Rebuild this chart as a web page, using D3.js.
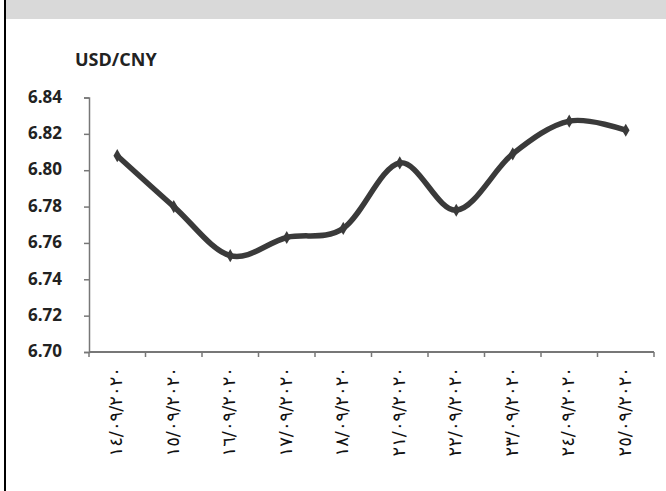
<!DOCTYPE html>
<html>
<head>
<meta charset="utf-8">
<script src="https://cdn.jsdelivr.net/npm/d3@7"></script>
<style>
  html, body { margin: 0; padding: 0; background: #fff; }
  svg { display: block; }
</style>
</head>
<body>
<svg id="chart" width="666" height="491"></svg>
<script>
// USD/CNY daily rate, September 2020
const dates = ["١٤/٠٩/٢٠٢٠", "١٥/٠٩/٢٠٢٠", "١٦/٠٩/٢٠٢٠", "١٧/٠٩/٢٠٢٠", "١٨/٠٩/٢٠٢٠",
               "٢١/٠٩/٢٠٢٠", "٢٢/٠٩/٢٠٢٠", "٢٣/٠٩/٢٠٢٠", "٢٤/٠٩/٢٠٢٠", "٢٥/٠٩/٢٠٢٠"];
const rates = [6.808, 6.780, 6.753, 6.763, 6.768, 6.804, 6.778, 6.809, 6.827, 6.822];
const yTicks = [6.70, 6.72, 6.74, 6.76, 6.78, 6.80, 6.82, 6.84];
const seriesName = "USD/CNY";

const svg = d3.select("#chart");
const W = 666, H = 491;
const ink = "#3a3a3a";

// header band and left frame rule
svg.append("rect").attr("x", 6).attr("y", 0).attr("width", W - 6).attr("height", 19)
  .attr("fill", "#d9d9d9");
svg.append("rect").attr("x", 4).attr("y", 0).attr("width", 2).attr("height", H)
  .attr("fill", "#000");

const plot = { left: 89, right: 654, top: 97.5, bottom: 352 };

const x = d3.scaleBand().domain(dates).range([plot.left, plot.right]);
const y = d3.scaleLinear().domain([6.70, 6.84]).range([plot.bottom, plot.top]);

// y axis
const yAxis = svg.append("g")
  .attr("transform", `translate(${plot.left},0)`)
  .call(d3.axisLeft(y).tickValues(yTicks).tickFormat(d3.format(".2f")).tickSize(5).tickPadding(22));
yAxis.select(".domain").attr("stroke", "#777").attr("stroke-width", 1.5);
yAxis.selectAll(".tick line").attr("stroke", "#777").attr("stroke-width", 1.5);
yAxis.selectAll(".tick text")
  .attr("fill", "#222")
  .attr("dy", "0.28em")
  .style("font-family", "'Open Sans', sans-serif")
  .style("font-weight", "700")
  .style("font-size", "17px");

// x axis with boundary ticks between days
const xAxis = svg.append("g")
  .attr("transform", `translate(0,${plot.bottom})`);
xAxis.append("line")
  .attr("x1", plot.left).attr("x2", plot.right)
  .attr("stroke", "#777").attr("stroke-width", 2);
const edges = dates.map(d => x(d)).concat([x(dates[dates.length - 1]) + x.bandwidth()]);
xAxis.selectAll("line.edge").data(edges).join("line")
  .attr("class", "edge")
  .attr("x1", d => d).attr("x2", d => d)
  .attr("y1", 0).attr("y2", 5)
  .attr("stroke", "#777").attr("stroke-width", 1.5);
xAxis.selectAll("text.date").data(dates).join("text")
  .attr("class", "date")
  .attr("transform", d => `translate(${x(d) + x.bandwidth() / 2 + 5},${15}) rotate(-90)`)
  .attr("text-anchor", "end")
  .attr("direction", "ltr")
  .style("unicode-bidi", "embed")
  .style("font-family", "'DejaVu Sans', sans-serif")
  .style("font-size", "18px")
  .style("letter-spacing", "3.8px")
  .attr("fill", "#111")
  .text(d => d);

// series title
svg.append("text")
  .attr("x", 75).attr("y", 66)
  .style("font-family", "'Open Sans', sans-serif")
  .style("font-weight", "700")
  .style("font-size", "18px")
  .attr("fill", "#222")
  .text(seriesName);

// smoothed rate line
const pts = dates.map((d, i) => [x(d) + x.bandwidth() / 2, y(rates[i])]);
svg.append("path")
  .attr("d", d3.line().curve(d3.curveCardinal.tension(0))(pts))
  .attr("fill", "none")
  .attr("stroke", ink)
  .attr("stroke-width", 5.5)
  .attr("stroke-linejoin", "round")
  .attr("stroke-linecap", "butt");

// diamond markers
svg.selectAll("path.marker").data(pts).join("path")
  .attr("class", "marker")
  .attr("transform", p => `translate(${p[0]},${p[1]})`)
  .attr("d", d3.symbol().type(d3.symbolDiamond).size(50))
  .attr("fill", ink);
</script>
</body>
</html>
